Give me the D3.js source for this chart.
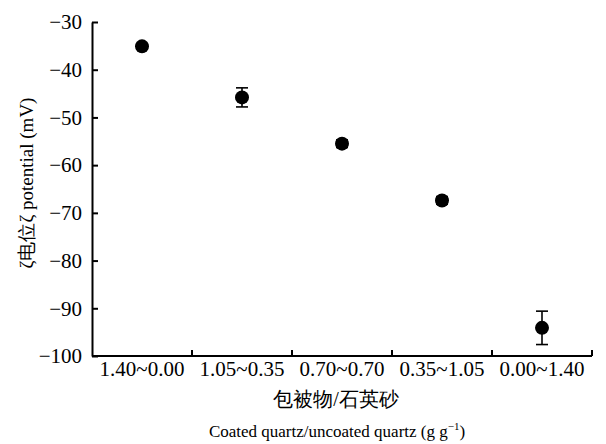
<!DOCTYPE html>
<html>
<head>
<meta charset="utf-8">
<script src="https://cdn.jsdelivr.net/npm/d3@7"></script>
<style>
    body { margin: 0; background: #fff; }
    text { font-family: "Liberation Serif", "Times New Roman", serif; fill: #000; }
</style>
</head>
<body>
<div id="chart"></div>
<script>
const categories = ["1.40~0.00", "1.05~0.35", "0.70~0.70", "0.35~1.05", "0.00~1.40"];
const zeta = [-35.1, -45.8, -55.5, -67.4, -94.1];
const zetaErr = [0.6, 2.0, 0.8, 0.8, 3.5];
const yTicks = [-30, -40, -50, -60, -70, -80, -90, -100];

const data = categories.map((c, i) => ({ cat: c, value: zeta[i], err: zetaErr[i] }));

//dimensions
const margin = { top: 22, right: 14, bottom: 88, left: 92 };
const width = 606 - margin.left - margin.right;
const height = 444 - margin.top - margin.bottom;

const svg = d3.select("#chart")
    .append("svg")
    .attr("width", 606)
    .attr("height", 444);

const g = svg.append("g")
    .attr("transform", `translate(${margin.left},${margin.top})`);

//scales
const x = d3.scaleBand()
    .domain(categories)
    .range([0, width]);

const y = d3.scaleLinear()
    .domain([-100, -30])
    .range([height, 0]);

//x axis: ticks on band edges pointing up
const xAxis = g.append("g")
    .attr("transform", `translate(0,${height})`);

xAxis.append("line")
    .attr("x1", 0).attr("x2", width)
    .attr("stroke", "#000").attr("stroke-width", 2);

xAxis.selectAll(".xtick")
    .data(categories.slice(1).concat(["end"]))
    .enter().append("line")
    .attr("x1", (d, i) => i < categories.length - 1 ? x(d) : width)
    .attr("x2", (d, i) => i < categories.length - 1 ? x(d) : width)
    .attr("y1", 0).attr("y2", -6)
    .attr("stroke", "#000").attr("stroke-width", 2);

xAxis.selectAll(".xlabel")
    .data(categories)
    .enter().append("text")
    .attr("x", d => x(d) + x.bandwidth() / 2)
    .attr("y", 20)
    .attr("text-anchor", "middle")
    .attr("font-size", 21)
    .text(d => d);

//y axis, ticks pointing inward
const yAxis = g.append("g")
    .call(d3.axisLeft(y).tickValues(yTicks).tickSizeInner(-6).tickSizeOuter(0).tickPadding(10)
        .tickFormat(d => "\u2212" + Math.abs(d)));
yAxis.select(".domain").attr("stroke-width", 2);
yAxis.selectAll(".tick line").attr("stroke-width", 2);
yAxis.selectAll(".tick text")
    .attr("font-size", 21)
    .attr("fill", "#000")
    .attr("font-family", "Liberation Serif, serif");

//error bars
const capW = 6;
const eb = g.append("g").attr("stroke", "#000").attr("stroke-width", 1.6);
data.forEach(d => {
    const cx = x(d.cat) + x.bandwidth() / 2;
    eb.append("line")
        .attr("x1", cx).attr("x2", cx)
        .attr("y1", y(d.value + d.err)).attr("y2", y(d.value - d.err));
    [d.value + d.err, d.value - d.err].forEach(v => {
        eb.append("line")
            .attr("x1", cx - capW).attr("x2", cx + capW)
            .attr("y1", y(v)).attr("y2", y(v));
    });
});

//points
g.selectAll(".pt")
    .data(data)
    .enter().append("circle")
    .attr("cx", d => x(d.cat) + x.bandwidth() / 2)
    .attr("cy", d => y(d.value))
    .attr("r", 7)
    .attr("fill", "#000");

//axis titles
svg.append("text")
    .attr("x", margin.left + width / 2 - 6)
    .attr("y", 406)
    .attr("text-anchor", "middle")
    .attr("font-size", 20)
    .attr("font-family", "Noto Sans CJK SC, serif")
    .text("包被物/石英砂");

const xt2 = svg.append("text")
    .attr("x", margin.left + width / 2 - 5)
    .attr("y", 437)
    .attr("text-anchor", "middle")
    .attr("font-size", 17);
xt2.append("tspan").text("Coated quartz/uncoated quartz (g g");
xt2.append("tspan").attr("font-size", 11).attr("dy", -7).text("\u22121");
xt2.append("tspan").attr("dy", 7).text(")");

svg.append("text")
    .attr("transform", "translate(33,183) rotate(-90)")
    .attr("text-anchor", "middle")
    .attr("font-size", 19)
    .attr("fill", "#000")
    .text("ζ电位ζ potential (mV)");
</script>
</body>
</html>
